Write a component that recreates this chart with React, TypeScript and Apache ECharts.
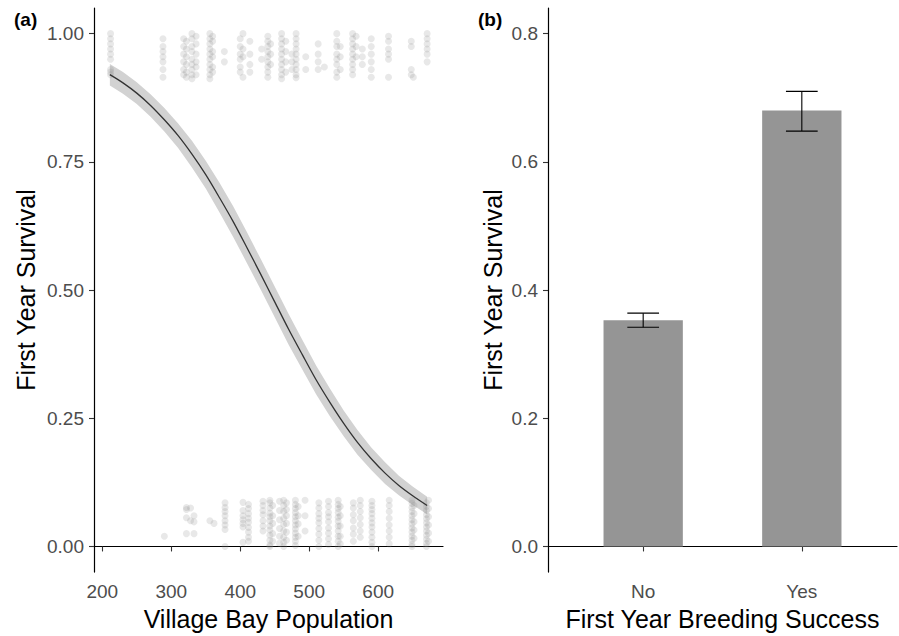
import React, { useEffect, useRef } from "react";
import * as echarts from "echarts";

// Panel (a): jittered survival outcomes (x = Village Bay population, y = jittered 0/1)
const survivedColumns: Array<[number, number[]]> = [
  [212, [1.0, 0.99, 0.98, 0.97, 0.96, 0.95, 0.93, 0.925, 0.92]],
  [288, [0.99, 0.975, 0.965, 0.955, 0.945, 0.93, 0.915]],
  [318, [0.99, 0.975, 0.96, 0.945, 0.93, 0.92]],
  [322, [0.985, 0.97, 0.955, 0.94, 0.925, 0.915]],
  [330, [1.0, 0.99, 0.975, 0.965, 0.95, 0.94, 0.93, 0.92, 0.912]],
  [336, [0.995, 0.98, 0.96, 0.945, 0.935, 0.92]],
  [356, [1.0, 0.99, 0.98, 0.97, 0.96, 0.95, 0.94, 0.93, 0.92, 0.912]],
  [360, [0.995, 0.985, 0.965, 0.955, 0.935, 0.925]],
  [377, [0.965, 0.945]],
  [400, [0.99, 0.975, 0.96, 0.95, 0.935, 0.925]],
  [404, [1.0, 0.97, 0.955, 0.915]],
  [414, [0.985, 0.96, 0.94, 0.925]],
  [431, [0.97, 0.95]],
  [440, [0.995, 0.985, 0.975, 0.965, 0.955, 0.945, 0.935, 0.925, 0.915]],
  [444, [0.98, 0.96, 0.94]],
  [460, [1.0, 0.99, 0.98, 0.97, 0.96, 0.95, 0.94, 0.93, 0.92, 0.912]],
  [466, [0.985, 0.965, 0.945, 0.925]],
  [475, [0.96, 0.945, 0.93]],
  [481, [1.0, 0.99, 0.98, 0.97, 0.96, 0.95, 0.94, 0.93, 0.92, 0.914]],
  [495, [0.955, 0.93]],
  [513, [0.98, 0.96, 0.945, 0.93]],
  [522, [0.935]],
  [540, [1.0, 0.985, 0.975, 0.96, 0.95, 0.94, 0.925, 0.915]],
  [545, [0.975, 0.955, 0.93]],
  [563, [1.0, 0.99, 0.98, 0.97, 0.96, 0.95, 0.94, 0.93, 0.92]],
  [568, [0.995, 0.975, 0.955]],
  [577, [0.97, 0.955, 0.94]],
  [590, [0.99, 0.975, 0.96, 0.945, 0.93, 0.915]],
  [615, [0.995, 0.985, 0.97, 0.96, 0.95, 0.915]],
  [648, [0.985, 0.975, 0.93, 0.92]],
  [651, [0.915]],
  [671, [1.0, 0.99, 0.98, 0.97, 0.96, 0.945]],
];

const diedColumns: Array<[number, number[]]> = [
  [290, [0.02]],
  [322, [0.076, 0.072, 0.056, 0.025]],
  [328, [0.075, 0.05]],
  [333, [0.06, 0.048, 0.025]],
  [356, [0.05]],
  [362, [0.045]],
  [378, [0.085, 0.076, 0.068, 0.06, 0.05, 0.042, 0.033, 0.0]],
  [404, [0.086, 0.07, 0.06, 0.052, 0.045, 0.038, 0.008]],
  [412, [0.082, 0.074, 0.064, 0.055, 0.047, 0.037, 0.028, 0.018, 0.01]],
  [433, [0.088, 0.08, 0.07, 0.062, 0.05, 0.04, 0.03]],
  [443, [0.09, 0.085, 0.075, 0.065, 0.058, 0.05, 0.04, 0.032, 0.022, 0.012, 0.003, 0.0]],
  [447, [0.08, 0.06, 0.045, 0.025, 0.01]],
  [457, [0.088, 0.07, 0.052, 0.035, 0.02, 0.006]],
  [463, [0.09, 0.08, 0.068, 0.055, 0.043, 0.03, 0.018, 0.008, 0.0]],
  [467, [0.085, 0.072, 0.06, 0.045, 0.028, 0.012]],
  [480, [0.09, 0.082, 0.074, 0.066, 0.058, 0.05, 0.042, 0.034, 0.026, 0.018, 0.01, 0.002]],
  [484, [0.078, 0.06, 0.044, 0.02]],
  [494, [0.09, 0.06, 0.03]],
  [514, [0.085, 0.075, 0.064, 0.055, 0.046, 0.035, 0.024, 0.012, 0.0]],
  [528, [0.088, 0.078, 0.066, 0.058, 0.048, 0.036, 0.026, 0.015, 0.004]],
  [542, [0.09, 0.082, 0.074, 0.066, 0.057, 0.049, 0.04, 0.03, 0.02, 0.01, 0.0]],
  [545, [0.078, 0.06, 0.04, 0.02, 0.005]],
  [564, [0.085, 0.075, 0.062, 0.05, 0.036, 0.024, 0.01]],
  [574, [0.09, 0.08, 0.068, 0.056, 0.043, 0.03, 0.018]],
  [591, [0.088, 0.08, 0.072, 0.064, 0.055, 0.046, 0.038, 0.028, 0.018, 0.008, 0.0]],
  [616, [0.09, 0.08, 0.068, 0.055, 0.042, 0.03, 0.018, 0.005]],
  [649, [0.09, 0.084, 0.076, 0.068, 0.06, 0.052, 0.044, 0.036, 0.028, 0.02, 0.012, 0.004, 0.0]],
  [652, [0.08, 0.064, 0.048, 0.032, 0.016]],
  [670, [0.085, 0.078, 0.07, 0.062, 0.054, 0.046, 0.038, 0.03, 0.022, 0.014, 0.006, 0.0]],
  [673, [0.09, 0.074, 0.058, 0.042, 0.026, 0.01]],
];

// Fitted logistic curve with confidence band
const fitX = [211, 230, 250, 270, 290, 310, 330, 350, 370, 390, 410, 430, 450, 470, 490, 510, 530, 550, 570, 590, 610, 630, 650, 671];
const fitY = [0.92, 0.904, 0.884, 0.86, 0.832, 0.801, 0.765, 0.725, 0.68, 0.633, 0.582, 0.53, 0.477, 0.424, 0.374, 0.325, 0.281, 0.24, 0.203, 0.171, 0.143, 0.119, 0.099, 0.08];
const fitLower = [0.899, 0.883, 0.863, 0.838, 0.809, 0.777, 0.739, 0.698, 0.651, 0.603, 0.552, 0.5, 0.447, 0.394, 0.345, 0.297, 0.254, 0.215, 0.179, 0.149, 0.122, 0.1, 0.081, 0.063];
const fitUpper = [0.941, 0.925, 0.905, 0.882, 0.855, 0.825, 0.791, 0.752, 0.709, 0.663, 0.612, 0.56, 0.507, 0.454, 0.403, 0.353, 0.308, 0.265, 0.227, 0.193, 0.164, 0.138, 0.117, 0.097];

// Panel (b): first year survival by breeding success
const breedingCategories = ["No", "Yes"];
const survivalMeans = [0.353, 0.68];
const survivalLow = [0.342, 0.648];
const survivalHigh = [0.364, 0.71];

const populationTicks = [200, 300, 400, 500, 600];
const survivalTicksA = [0, 0.25, 0.5, 0.75, 1];
const survivalTicksB = [0, 0.2, 0.4, 0.6, 0.8];

const FONT = "Liberation Sans, Arial, sans-serif";

export default function App() {
  const ref = useRef<HTMLDivElement>(null);

  useEffect(() => {
    if (!ref.current) return;
    const chart = echarts.init(ref.current, null, { renderer: "svg" });

    const flatten = (cols: Array<[number, number[]]>) => {
      const out: number[][] = [];
      cols.forEach(([x, ys]) => ys.forEach((y) => out.push([x, y])));
      return out;
    };

    const axisLine = { show: true, lineStyle: { color: "#000", width: 1.2 } };
    const tickStyle = { color: "#333", width: 1.1 };
    const labelStyle = { color: "#4d4d4d", fontSize: 19, fontFamily: FONT };
    const nameStyle = { color: "#000", fontSize: 25, fontFamily: FONT };

    const option: any = {
      animation: false,
      backgroundColor: "#fff",
      grid: [
        { left: 94, top: 8, width: 349, height: 565 },
        { left: 548, top: 8, width: 349, height: 565 },
      ],
      xAxis: [
        {
          type: "value",
          gridIndex: 0,
          min: 188,
          max: 694,
          axisLine,
          axisTick: { show: true, length: 5, customValues: populationTicks, lineStyle: tickStyle },
          axisLabel: { ...labelStyle, margin: 10, customValues: populationTicks },
          splitLine: { show: false },
          name: "Village Bay Population",
          nameLocation: "middle",
          nameGap: 33,
          nameTextStyle: nameStyle,
        },
        {
          type: "value",
          gridIndex: 1,
          min: 0.4,
          max: 2.6,
          axisLine,
          axisTick: { show: true, length: 5, customValues: [1, 2], lineStyle: tickStyle },
          axisLabel: {
            ...labelStyle,
            margin: 10,
            customValues: [1, 2],
            formatter: (v: number) => breedingCategories[Math.round(v) - 1] ?? "",
          },
          splitLine: { show: false },
          name: "First Year Breeding Success",
          nameLocation: "middle",
          nameGap: 33,
          nameTextStyle: nameStyle,
        },
      ],
      yAxis: [
        {
          type: "value",
          gridIndex: 0,
          min: -0.05,
          max: 1.05,
          axisLine,
          axisTick: { show: true, length: 5, customValues: survivalTicksA, lineStyle: tickStyle },
          axisLabel: {
            ...labelStyle,
            margin: 10,
            customValues: survivalTicksA,
            formatter: (v: number) => v.toFixed(2),
          },
          splitLine: { show: false },
          name: "First Year Survival",
          nameLocation: "middle",
          nameGap: 56,
          nameTextStyle: nameStyle,
        },
        {
          type: "value",
          gridIndex: 1,
          min: -0.04,
          max: 0.84,
          axisLine,
          axisTick: { show: true, length: 5, customValues: survivalTicksB, lineStyle: tickStyle },
          axisLabel: {
            ...labelStyle,
            margin: 10,
            customValues: survivalTicksB,
            formatter: (v: number) => v.toFixed(1),
          },
          splitLine: { show: false },
          name: "First Year Survival",
          nameLocation: "middle",
          nameGap: 43,
          nameTextStyle: nameStyle,
        },
      ],
      graphic: [
        { type: "text", left: 14, top: 10, style: { text: "(a)", font: `bold 19px ${FONT}`, fill: "#000" } },
        { type: "text", left: 478, top: 10, style: { text: "(b)", font: `bold 19px ${FONT}`, fill: "#000" } },
      ],
      series: [
        {
          type: "scatter",
          xAxisIndex: 0,
          yAxisIndex: 0,
          data: flatten(survivedColumns),
          symbolSize: 7,
          itemStyle: { color: "#8a8a8a", opacity: 0.2 },
          silent: true,
        },
        {
          type: "scatter",
          xAxisIndex: 0,
          yAxisIndex: 0,
          data: flatten(diedColumns),
          symbolSize: 7,
          itemStyle: { color: "#8a8a8a", opacity: 0.2 },
          silent: true,
        },
        {
          type: "custom",
          xAxisIndex: 0,
          yAxisIndex: 0,
          silent: true,
          data: fitX.map((x, i) => [x, fitLower[i], fitUpper[i]]),
          renderItem: (params: any, api: any) => {
            if (params.dataIndex !== 0) return null;
            const upper = fitX.map((x, i) => api.coord([x, fitUpper[i]]));
            const lower = fitX.map((x, i) => api.coord([x, fitLower[i]])).reverse();
            return {
              type: "polygon",
              shape: { points: upper.concat(lower) },
              style: { fill: "#d2d2d2" },
            };
          },
        },
        {
          type: "line",
          xAxisIndex: 0,
          yAxisIndex: 0,
          data: fitX.map((x, i) => [x, fitY[i]]),
          showSymbol: false,
          smooth: 0.3,
          lineStyle: { color: "#333", width: 1.3 },
          silent: true,
        },
        {
          type: "custom",
          xAxisIndex: 1,
          yAxisIndex: 1,
          silent: true,
          data: survivalMeans.map((m, i) => [i + 1, m]),
          renderItem: (params: any, api: any) => {
            const x = api.value(0);
            const y = api.value(1);
            const p0 = api.coord([x - 0.25, y]);
            const p1 = api.coord([x + 0.25, 0]);
            return {
              type: "rect",
              shape: { x: p0[0], y: p0[1], width: p1[0] - p0[0], height: p1[1] - p0[1] },
              style: { fill: "#959595" },
            };
          },
        },
        {
          type: "custom",
          xAxisIndex: 1,
          yAxisIndex: 1,
          silent: true,
          data: survivalMeans.map((_, i) => [i + 1, survivalLow[i], survivalHigh[i]]),
          renderItem: (params: any, api: any) => {
            const x = api.value(0);
            const lo = api.value(1);
            const hi = api.value(2);
            const top = api.coord([x, hi]);
            const bot = api.coord([x, lo]);
            const tl = api.coord([x - 0.1, hi]);
            const tr = api.coord([x + 0.1, hi]);
            const bl = api.coord([x - 0.1, lo]);
            const br = api.coord([x + 0.1, lo]);
            const st = { stroke: "#000", lineWidth: 1.1 };
            return {
              type: "group",
              children: [
                { type: "line", shape: { x1: top[0], y1: top[1], x2: bot[0], y2: bot[1] }, style: st },
                { type: "line", shape: { x1: tl[0], y1: tl[1], x2: tr[0], y2: tr[1] }, style: st },
                { type: "line", shape: { x1: bl[0], y1: bl[1], x2: br[0], y2: br[1] }, style: st },
              ],
            };
          },
        },
      ],
    };

    chart.setOption(option);
    return () => chart.dispose();
  }, []);

  return <div ref={ref} style={{ width: 899, height: 636, position: "absolute", left: 0, top: 0 }} />;
}
